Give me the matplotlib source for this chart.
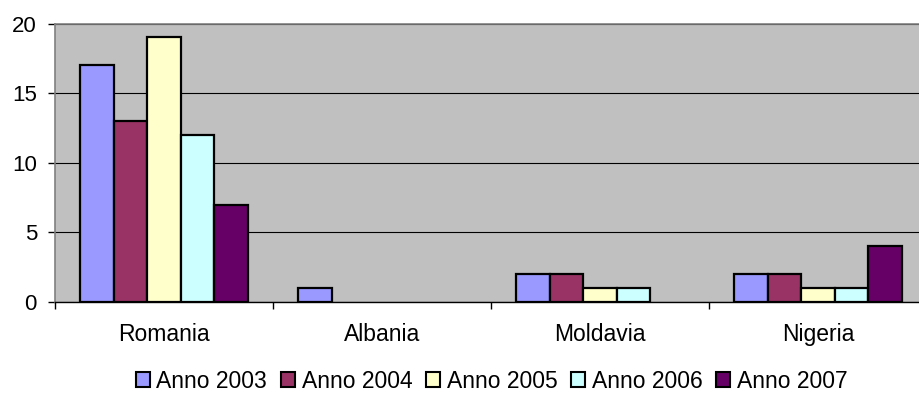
import numpy as np
import matplotlib
matplotlib.use("Agg")
import matplotlib.pyplot as plt
from matplotlib.patches import Patch

plt.rcParams['font.family'] = ['Liberation Sans', 'DejaVu Sans']

countries = ["Romania", "Albania", "Moldavia", "Nigeria"]
series = ["Anno 2003", "Anno 2004", "Anno 2005", "Anno 2006", "Anno 2007"]
anno_2003 = [17, 1, 2, 2]
anno_2004 = [13, 0, 2, 2]
anno_2005 = [19, 0, 1, 1]
anno_2006 = [12, 0, 1, 1]
anno_2007 = [7, 0, 0, 4]
values = [anno_2003, anno_2004, anno_2005, anno_2006, anno_2007]
colors = ["#9999FF", "#993366", "#FFFFCC", "#CCFFFF", "#660066"]
y_ticks = [0, 5, 10, 15, 20]

fig = plt.figure(figsize=(9.19, 4.05), dpi=100)
ax = fig.add_axes([55 / 919, 103 / 405, 872 / 919, 278.5 / 405])
ax.set_facecolor("#C0C0C0")

x = np.arange(len(countries))
w = 1 / 6.5
for i, (vals, col) in enumerate(zip(values, colors)):
    lw = [1.6 if v > 0 else 0 for v in vals]
    ax.bar(x + (i - 2) * w, vals, width=w, color=col, edgecolor="black",
           linewidth=lw, zorder=3)

ax.set_xlim(-0.5, len(countries) - 0.5)
ax.set_ylim(0, 20)
ax.set_yticks(y_ticks)
ax.set_yticklabels([str(t) for t in y_ticks], fontsize=16)
ax.yaxis.grid(True, color="black", linewidth=0.8, zorder=1)

ax.set_xticks(x)
ax.set_xticklabels(countries, fontsize=16.5)
ax.set_xticks(np.arange(len(countries) + 1) - 0.5, minor=True)
ax.tick_params(axis="x", which="major", length=0, pad=15)
ax.tick_params(axis="x", which="minor", length=5, width=1, color="black", direction="out")
ax.tick_params(axis="y", length=5, width=1, color="black", pad=8)

for s in ["top", "left"]:
    ax.spines[s].set_color("#808080")
    ax.spines[s].set_linewidth(1.2)
ax.spines["right"].set_visible(False)
ax.spines["bottom"].set_color("black")
ax.spines["bottom"].set_linewidth(1)

handles = [Patch(facecolor=c, edgecolor="black", linewidth=1.5) for c in colors]
fig.legend(handles, series, loc="center", bbox_to_anchor=(0.535, 0.059),
           ncol=5, frameon=False, fontsize=16.5, handlelength=0.6,
           handleheight=0.6, handletextpad=0.3, columnspacing=0.6,
           borderpad=0, borderaxespad=0)

fig.savefig("out.png", dpi=100)
